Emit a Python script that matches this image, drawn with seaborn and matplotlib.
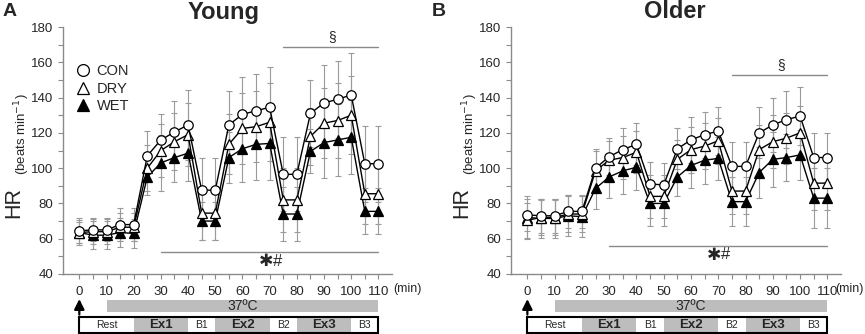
import numpy as np
import matplotlib
matplotlib.use("Agg")
import matplotlib.pyplot as plt
import seaborn as sns
from matplotlib.lines import Line2D
from matplotlib.patches import Rectangle

# --------------------------
# Data
# --------------------------
time = [0, 5, 10, 15, 20, 25, 30, 35, 40, 45, 50, 55, 60, 65, 70, 75, 80, 85, 90, 95, 100, 105, 110]

young_con = [64.5, 65, 65, 68, 68, 107, 116, 120.5, 124.5, 87.5, 87.5, 124.5, 130.5, 132.5, 134.5, 96.5, 96.5, 131, 137, 139, 141.5, 102.5, 102.5]
young_dry = [63.5, 64, 64, 66.5, 66.5, 100, 110, 115, 119, 74.5, 74.5, 113.5, 122.5, 123.5, 126, 82, 82, 118, 125.5, 127, 130, 85.5, 85.5]
young_wet = [63.5, 62, 62, 63.5, 63, 95, 103, 106, 108.5, 70, 70, 106, 111, 113.5, 114, 74, 74, 109.5, 114.5, 116, 117.5, 75.5, 75.5]
young_con_sd = [7, 6.5, 6.5, 9.5, 9.5, 14, 14.5, 17.5, 20, 18, 18, 19, 21, 21, 23, 21, 21, 19, 21.5, 22, 23.5, 21.5, 21.5]
young_dry_sd = [6, 7, 7, 8, 8, 13, 15, 16, 18, 15, 15, 17, 20, 20, 22, 18, 18, 16, 20, 21, 22, 17, 17]
young_wet_sd = [7, 8, 8, 8, 8, 10, 16, 14, 16, 11, 11, 14.5, 19, 20.5, 21, 15.5, 15.5, 12.5, 20, 20.5, 21, 13, 13]

older_con = [73.5, 73, 73, 75.5, 75.5, 100, 106.5, 110.5, 113.5, 91, 90.5, 111, 116, 119, 121, 101, 101, 120, 124.5, 127.5, 129.5, 106, 106]
older_dry = [70.5, 72, 72, 74, 74, 98.5, 104.5, 106, 109, 84, 84, 105, 110.5, 112.5, 115.5, 87, 87, 110.5, 115, 117, 120, 91.5, 91.5]
older_wet = [72, 71.5, 71.5, 73, 72.5, 88.5, 95, 98.5, 100.5, 80, 80, 95, 101.5, 104.5, 105.5, 81, 81, 97.5, 105, 106, 107.5, 83, 83]
older_con_sd = [9, 9.5, 9.5, 9.5, 9.5, 11, 10.5, 12, 12, 12.5, 12.5, 11.5, 13, 13, 13.5, 14, 14, 14.5, 15.5, 16, 16.5, 14, 14]
older_dry_sd = [10, 10, 10, 10, 10, 11, 11, 12, 12, 12, 12, 11, 13, 13, 13, 13, 13, 14, 15, 14.5, 15, 15, 15]
older_wet_sd = [12, 11, 11, 11.5, 11.5, 11.5, 12, 13, 13, 13, 13, 11, 13, 13.5, 12, 14, 14, 14.5, 15.5, 13.5, 14, 17, 17]

phases = ["Rest", "Ex1", "B1", "Ex2", "B2", "Ex3", "B3"]
phase_edges = [0, 20, 40, 50, 70, 80, 100, 110]

# --------------------------
# Style
# --------------------------
sns.set_style("ticks")
plt.rcParams["font.family"] = ["Liberation Sans", "DejaVu Sans"]

GRAY = "#8a8a8a"
EBAR = "#9a9a9a"
FILL = "#bdbdbd"

fig = plt.figure(figsize=(8.65, 3.34), dpi=100)
W, H = 865, 334
axA = fig.add_axes([63 / W, 60 / H, 329 / W, 247 / H])
axB = fig.add_axes([511 / W, 60 / H, 330 / W, 247 / H])

series_style = {
    "CON": dict(marker="o", markerfacecolor="white", ms=6.8),
    "DRY": dict(marker="^", markerfacecolor="white", ms=7.2),
    "WET": dict(marker="^", markerfacecolor="black", ms=7.2),
}


def draw_panel(ax, con, dry, wet, con_sd, dry_sd, wet_sd, sect_y, star_y, min_x):
    data = {"CON": (con, con_sd), "DRY": (dry, dry_sd), "WET": (wet, wet_sd)}
    for name, (vals, sd) in data.items():
        ax.errorbar(time, vals, yerr=sd, fmt="none", ecolor=EBAR, elinewidth=0.8,
                    capsize=2, capthick=0.8, zorder=1)
    for name in ["WET", "DRY", "CON"]:
        vals = data[name][0]
        sns.lineplot(x=time, y=vals, ax=ax, color="black", lw=1,
                     markeredgecolor="black", markeredgewidth=0.9, zorder=3,
                     **series_style[name])

    ax.set_xlim(-6, 115)
    ax.set_ylim(40, 180)
    ax.set_xticks(range(0, 111, 10))
    ax.set_xticks(range(0, 111, 5), minor=True)
    ax.set_yticks(range(40, 181, 20))
    ax.set_yticks(range(50, 180, 20), minor=True)
    ax.tick_params(axis="both", which="both", length=3.5, width=0.8, color=GRAY,
                   labelsize=9.5, direction="out")
    ax.tick_params(axis="x", pad=5)
    ax.set_xlabel("")
    ax.set_ylabel("")
    sns.despine(ax=ax)
    for sp in ["left", "bottom"]:
        ax.spines[sp].set_color(GRAY)
        ax.spines[sp].set_linewidth(1)

    # significance marks
    ax.plot([75, 110], [sect_y, sect_y], color=GRAY, lw=1, clip_on=False)
    ax.text(93, sect_y + 1.5, "§", ha="center", va="bottom", fontsize=10)
    ax.plot([30, 110], [star_y, star_y], color=GRAY, lw=1, clip_on=False)
    ax.text(68.6, star_y - 5.0, "✱", ha="center", va="center", fontsize=12.5,
            family=["DejaVu Sans"])
    ax.text(72.8, star_y - 5.0, "#", ha="center", va="center", fontsize=12)

    # protocol annotations below the axis
    ax.text(min_x, 31.5, "(min)", ha="left", va="center", fontsize=9, clip_on=False)
    ax.annotate("", xy=(0, 25.8), xytext=(0, 17.0), annotation_clip=False,
                arrowprops=dict(arrowstyle="-|>,head_length=0.6,head_width=0.3",
                                mutation_scale=10, color="black", lw=1.6,
                                shrinkA=0, shrinkB=0))
    ax.add_patch(Rectangle((10, 18.4), 100, 6.8, fc=FILL, ec="none", clip_on=False))
    ax.text(60, 21.8, "37ºC", ha="center", va="center", fontsize=10, clip_on=False)
    for i, lab in enumerate(phases):
        x0, x1 = phase_edges[i], phase_edges[i + 1]
        is_ex = lab.startswith("Ex")
        ax.add_patch(Rectangle((x0, 6.5), x1 - x0, 9.1, fc=FILL if is_ex else "white",
                               ec="none", clip_on=False))
        ax.text((x0 + x1) / 2, 11.0, lab, ha="center", va="center", clip_on=False,
                fontsize=9.5 if is_ex else 7.5, fontweight="bold" if is_ex else "normal")
    ax.add_patch(Rectangle((0, 6.5), 110, 9.1, fc="none", ec="black", lw=1.5,
                           clip_on=False))


draw_panel(axA, young_con, young_dry, young_wet, young_con_sd, young_dry_sd,
           young_wet_sd, sect_y=168.8, star_y=52.3, min_x=115.3)
draw_panel(axB, older_con, older_dry, older_wet, older_con_sd, older_dry_sd,
           older_wet_sd, sect_y=152.8, star_y=55.8, min_x=113.0)

# legend (panel A only)
handles = [
    Line2D([], [], ls="none", marker="o", mfc="white", mec="black", ms=8.5, mew=0.9),
    Line2D([], [], ls="none", marker="^", mfc="white", mec="black", ms=9, mew=0.9),
    Line2D([], [], ls="none", marker="^", mfc="black", mec="black", ms=9, mew=0.9),
]
axA.legend(handles, ["CON", "DRY", "WET"], loc="upper left",
           bbox_to_anchor=(0.04, 0.85), frameon=False, fontsize=10.5,
           handlelength=1.0, handletextpad=0.4, labelspacing=0.25,
           borderpad=0, borderaxespad=0)

# titles, panel letters and y labels
fig.text(224 / W, 1 - 12 / H, "Young", ha="center", va="center", fontsize=17,
         fontweight="bold")
fig.text(675 / W, 1 - 12 / H, "Older", ha="center", va="center", fontsize=17,
         fontweight="bold")
fig.text(3 / W, 1 - 11 / H, "A", ha="left", va="center", fontsize=14, fontweight="bold")
fig.text(432 / W, 1 - 11 / H, "B", ha="left", va="center", fontsize=14, fontweight="bold")

for spine_x in (63, 511):
    fig.text((spine_x - 49) / W, 1 - 203 / H, "HR", rotation=90, ha="center",
             va="center", fontsize=15.5)
    fig.text((spine_x - 41) / W, 1 - 134 / H, "(beats min$^{-1}$)", rotation=90,
             ha="center", va="center", fontsize=9.5)

fig.savefig("out.png", dpi=100)
